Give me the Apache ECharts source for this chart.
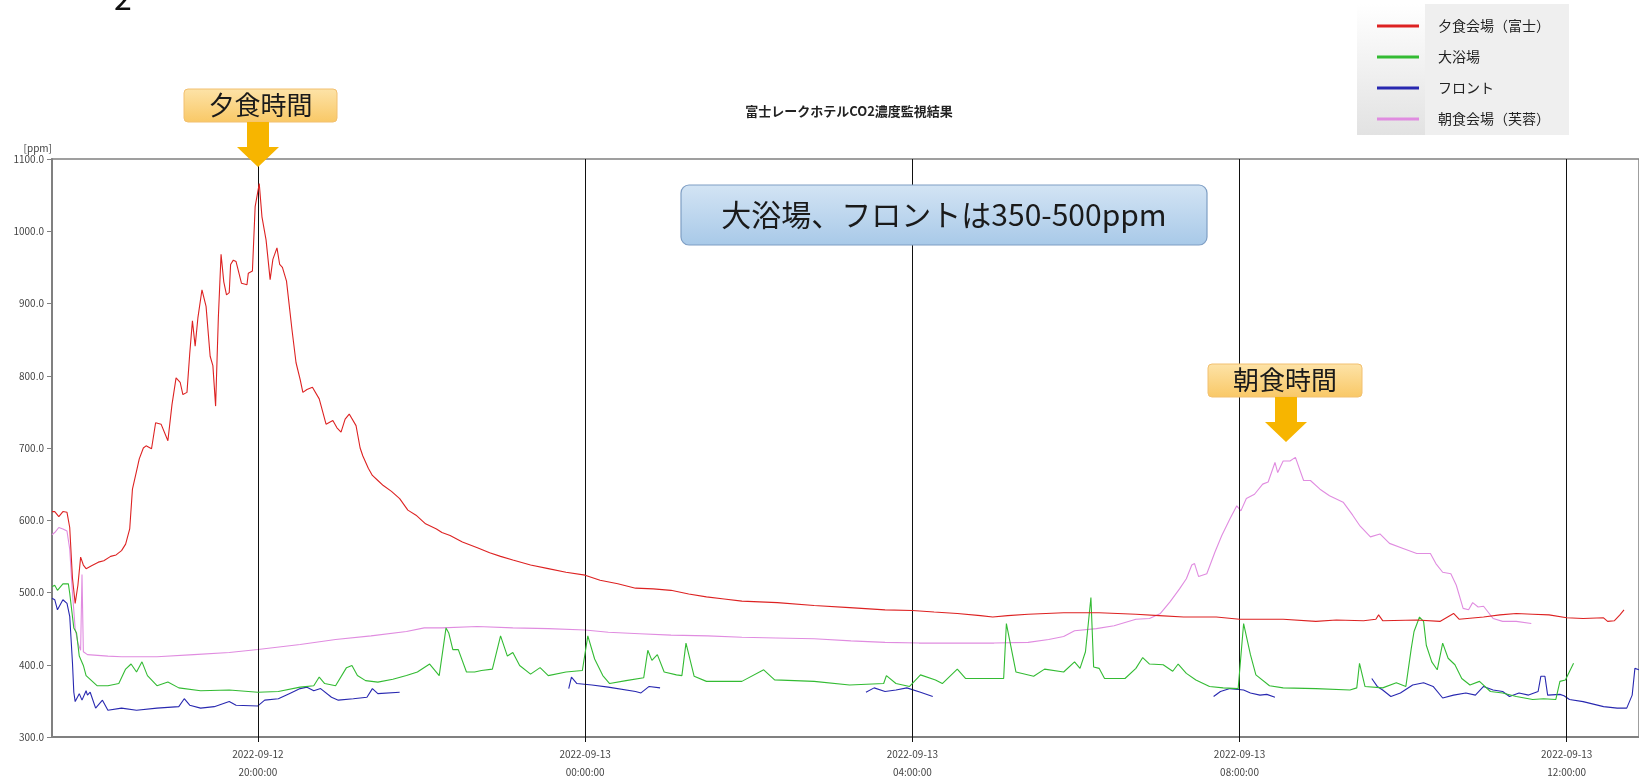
<!DOCTYPE html>
<html><head><meta charset="utf-8">
<script src="https://cdn.jsdelivr.net/npm/echarts@6/dist/echarts.min.js"></script>
<style>html,body{margin:0;padding:0;background:#fff}#c{width:1639px;height:781px}</style>
</head><body><div id="c"></div>
<script>
// ---- Data (time "HH:MM"; 17:00-23:59 = 2022-09-12, 00:00-16:59 = 2022-09-13) ----
const seriesNames = ['夕食会場（富士）', '大浴場', 'フロント', '朝食会場（芙蓉）'];
const seriesColors = ['#dd2222', '#33bb33', '#2828b0', '#e08ce0'];
const tickHours = [20, 24, 28, 32, 36];
const tickLabels = ['2022-09-12\n20:00:00', '2022-09-13\n00:00:00', '2022-09-13\n04:00:00', '2022-09-13\n08:00:00', '2022-09-13\n12:00:00'];
const xStart = '17:29', xEnd = '12:53';

const dinnerHall = [
['17:29',612],['17:31',612],['17:34',605],['17:37',612],['17:40',611],['17:42',590],['17:44',520],['17:46',485],['17:48',510],['17:50',549],
['17:52',538],['17:54',533],['17:58',537],['18:03',542],['18:07',544],['18:12',550],['18:16',552],['18:20',558],['18:23',567],['18:26',588],
['18:28',643],['18:31',668],['18:33',685],['18:36',700],['18:38',703],['18:42',699],['18:45',735],['18:49',733],['18:54',710],['18:57',760],
['19:00',797],['19:03',791],['19:05',774],['19:08',777],['19:10',830],['19:12',876],['19:14',841],['19:16',880],['19:19',919],['19:22',896],
['19:25',827],['19:27',814],['19:29',758],['19:31',880],['19:33',968],['19:35',930],['19:37',912],['19:39',915],['19:40',954],['19:42',960],
['19:44',958],['19:48',928],['19:52',926],['19:53',942],['19:56',945],['19:58',1034],['20:01',1066],['20:03',1020],['20:06',988],['20:09',933],
['20:11',961],['20:14',977],['20:16',954],['20:18',950],['20:21',931],['20:25',864],['20:28',818],['20:31',795],['20:33',777],['20:36',781],
['20:40',784],['20:45',768],['20:50',733],['20:55',738],['20:58',728],['21:01',722],['21:04',740],['21:07',747],['21:12',731],['21:15',700],
['21:17',689],['21:21',672],['21:24',662],['21:28',655],['21:32',648],['21:38',640],['21:44',630],['21:50',614],['21:56',607],['22:03',595],
['22:11',588],['22:15',583],['22:21',579],['22:30',570],['22:41',562],['22:50',555],['22:58',550],['23:07',545],['23:20',538],['23:33',533],
['23:46',528],['00:00',524],['00:11',517],['00:24',512],['00:37',506],['00:50',505],['01:03',503],['01:16',498],['01:29',494],['01:42',491],
['01:55',488],['02:21',486],['02:48',482],['03:14',479],['03:40',476],['04:00',475],['04:16',473],['04:33',471],['04:50',468],['04:59',466],
['05:10',468],['05:25',470],['05:51',472],['06:17',472],['06:44',470],['07:01',468],['07:19',466],['07:43',466],['08:00',463],['08:32',463],
['08:56',460],['09:11',462],['09:31',461],['09:40',463],['09:42',469],['09:45',461],['10:10',462],['10:27',460],['10:37',471],['10:41',463],
['10:59',466],['11:11',469],['11:23',471],['11:35',470],['11:47',469],['12:00',465],['12:12',464],['12:27',465],['12:30',460],['12:35',461],
['12:39',469],['12:42',476]
];

const bath = [
['17:29',508],['17:31',510],['17:33',503],['17:37',512],['17:41',512],['17:42',499],['17:45',451],['17:47',444],['17:49',412],['17:52',399],
['17:54',385],['18:02',371],['18:10',371],['18:18',374],['18:23',394],['18:27',401],['18:31',390],['18:35',404],['18:39',385],['18:46',371],
['18:54',376],['19:02',368],['19:18',364],['19:39',365],['20:00',362],['20:15',363],['20:31',369],['20:41',371],['20:45',383],['20:49',374],
['20:57',371],['21:05',396],['21:09',399],['21:13',385],['21:19',378],['21:28',376],['21:39',380],['21:49',385],['21:57',390],['22:06',401],
['22:13',385],['22:18',451],['22:20',444],['22:23',421],['22:27',421],['22:33',390],['22:39',390],['22:44',392],['22:52',394],['22:58',440],
['23:03',412],['23:07',417],['23:12',399],['23:20',387],['23:27',396],['23:33',385],['23:46',390],['23:58',392],['00:02',440],['00:07',408],
['00:13',385],['00:18',374],['00:30',378],['00:43',382],['00:46',420],['00:49',406],['00:53',414],['00:58',390],['01:07',386],['01:11',385],
['01:14',430],['01:20',384],['01:29',377],['01:55',377],['02:11',393],['02:19',379],['02:48',377],['03:14',372],['03:39',374],['03:41',385],
['03:48',374],['03:58',370],['04:06',386],['04:17',379],['04:22',374],['04:33',394],['04:39',381],['05:07',381],['05:09',457],['05:16',390],
['05:29',384],['05:37',394],['05:51',390],['05:59',404],['06:03',395],['06:07',418],['06:11',493],['06:13',397],['06:17',395],['06:21',381],
['06:36',381],['06:44',395],['06:49',410],['06:54',401],['07:04',400],['07:11',391],['07:15',401],['07:21',388],['07:28',379],['07:38',370],
['07:48',368],['07:59',367],['08:03',457],['08:08',414],['08:12',386],['08:22',371],['08:32',368],['08:56',367],['09:21',365],['09:26',368],
['09:28',402],['09:32',370],['09:45',368],['09:55',375],['10:02',370],['10:06',423],['10:08',446],['10:12',466],['10:15',460],['10:17',427],
['10:21',404],['10:25',393],['10:29',430],['10:33',409],['10:38',400],['10:43',381],['10:49',372],['10:56',377],['11:04',363],['11:13',361],
['11:23',356],['11:35',352],['11:43',353],['11:52',352],['11:55',377],['11:59',379],['12:05',402]
];

const frontDesk = [
['17:29',492],['17:31',490],['17:33',476],['17:37',490],['17:40',485],['17:42',467],['17:44',403],['17:45',362],['17:46',349],['17:49',360],
['17:51',351],['17:54',364],['17:55',358],['17:57',362],['18:01',340],['18:06',351],['18:10',337],['18:20',340],['18:31',337],['18:46',340],
['19:02',342],['19:06',353],['19:10',344],['19:18',340],['19:28',342],['19:39',349],['19:44',344],['20:00',343],['20:05',351],['20:15',353],
['20:23',360],['20:31',367],['20:36',369],['20:41',364],['20:46',367],['20:54',355],['20:59',351],['21:10',353],['21:20',355],['21:24',367],
['21:28',360],['21:44',362],['21:45',null],
['23:48',367],['23:50',383],['23:54',374],['00:05',372],['00:17',369],['00:37',363],['00:41',361],['00:47',370],['00:55',368],['00:56',null],
['03:26',362],['03:32',368],['03:40',363],['03:48',365],['03:56',368],['04:06',362],['04:15',356],['04:16',null],
['07:41',356],['07:46',363],['07:53',367],['08:03',365],['08:08',361],['08:15',358],['08:20',359],['08:26',355],['08:27',null],
['09:37',381],['09:41',370],['09:45',365],['09:51',356],['09:58',361],['10:07',372],['10:15',375],['10:22',370],['10:29',354],['10:37',358],
['10:46',361],['10:53',358],['10:59',370],['11:06',365],['11:13',363],['11:18',356],['11:25',361],['11:32',358],['11:39',363],['11:41',384],
['11:44',384],['11:46',358],['11:55',359],['11:58',357],['12:02',352],['12:12',349],['12:27',342],['12:37',340],['12:44',340],['12:48',358],
['12:50',395],['12:53',393]
];

const breakfastHall = [
['17:29',580],['17:31',583],['17:34',590],['17:37',588],['17:40',585],['17:42',560],['17:44',500],['17:46',450],['17:48',430],['17:50',420],
['17:51',525],['17:52',418],['17:55',414],['18:10',412],['18:20',411],['18:46',411],['19:13',414],['19:39',417],['20:00',421],['20:31',428],
['20:57',435],['21:23',440],['21:49',446],['22:02',451],['22:15',451],['22:41',453],['23:07',451],['23:33',450],['00:00',448],['00:17',445],
['00:40',443],['01:03',441],['01:30',440],['01:55',438],['02:20',437],['02:48',436],['03:15',433],['03:40',431],['04:05',430],['04:33',430],
['05:00',430],['05:25',431],['05:40',435],['05:51',439],['05:59',447],['06:15',450],['06:28',454],['06:44',463],['06:54',464],['07:02',471],
['07:09',487],['07:16',505],['07:21',519],['07:25',538],['07:27',540],['07:30',522],['07:36',526],['07:42',556],['07:47',579],['07:53',602],
['07:58',620],['08:01',613],['08:05',630],['08:11',636],['08:17',650],['08:21',653],['08:26',680],['08:28',666],['08:32',682],['08:37',682],
['08:41',687],['08:47',655],['08:52',655],['08:59',643],['09:06',634],['09:16',625],['09:23',607],['09:28',593],['09:36',577],['09:43',581],
['09:50',568],['10:00',561],['10:10',554],['10:20',554],['10:24',540],['10:29',528],['10:35',526],['10:39',510],['10:44',478],['10:48',476],
['10:51',486],['10:55',480],['10:59',481],['11:06',464],['11:13',460],['11:23',460],['11:34',457]
];

// ---- helpers ----
function hrs(s){ const [h,m] = s.split(':').map(Number); return (h < 17 ? h + 24 : h) + m/60; }
function conv(arr){ return arr.map(([t,v]) => [hrs(t), v]); }

const dataSets = [dinnerHall, bath, frontDesk, breakfastHall];
const FONT = '"Noto Sans CJK JP", "Noto Sans", sans-serif';

const chart = echarts.init(document.getElementById('c'), null, {renderer:'canvas'});

const series = dataSets.map((d, i) => ({
  name: seriesNames[i], type: 'line', data: conv(d), showSymbol: false, symbol: 'none',
  connectNulls: false, lineStyle: {width: 1.1, color: seriesColors[i]}, itemStyle: {color: seriesColors[i]},
  z: 3 + (3 - i), animation: false
}));
series[0].markLine = {
  silent: true, symbol: 'none', label: {show: false}, animation: false,
  lineStyle: {color: '#111', width: 1, type: 'solid'},
  data: tickHours.map(h => ({xAxis: h}))
};

function arrow(cx, yTop, yNeck, yTip){
  return {type:'polygon', shape:{points:[[cx-11,yTop],[cx+11,yTop],[cx+11,yNeck],[cx+21,yNeck],[cx,yTip],[cx-21,yNeck],[cx-11,yNeck]]},
    style:{fill:'#f7b500'}, z:20};
}
function tagBox(x, y, w, h, text){
  return [
    {type:'rect', shape:{x:x, y:y, width:w, height:h, r:4}, z:19,
      style:{fill:new echarts.graphic.LinearGradient(0,0,0,1,[{offset:0,color:'#fde3a8'},{offset:1,color:'#f9c866'}]), stroke:'#f2c070', lineWidth:1}},
    {type:'text', x:x+w/2, y:y+h/2, z:21, style:{text:text, font:'26px '+FONT, fill:'#1a1a1a', align:'center', verticalAlign:'middle'}}
  ];
}

const option = {
  backgroundColor: '#ffffff',
  animation: false,
  textStyle: {fontFamily: FONT},
  title: {text: '富士レークホテルCO2濃度監視結果', left: 844, top: 100, textAlign: 'center',
    textStyle: {fontSize: 13, fontWeight: 'bold', color: '#222', fontFamily: FONT}},
  legend: {
    orient: 'vertical', left: 1372, top: 14, itemGap: 17, itemWidth: 42, itemHeight: 3, icon: 'rect',
    data: seriesNames, selectedMode: false,
    textStyle: {fontSize: 14, color: '#222', fontFamily: FONT, padding: [0,0,0,14]}
  },
  grid: {left: 52, right: 0, top: 159, bottom: 42, show: true, borderColor: '#808080', borderWidth: 1.5, backgroundColor: 'transparent'},
  xAxis: {
    type: 'value', min: hrs(xStart), max: hrs(xEnd),
    axisLine: {show: true, lineStyle: {color: '#808080', width: 2}},
    splitLine: {show: false},
    axisTick: {show: true, customValues: tickHours, length: 5, lineStyle: {color: '#111'}},
    axisLabel: {customValues: tickHours, fontSize: 10, color: '#444', lineHeight: 18, margin: 8, fontFamily: FONT,
      formatter: v => { const i = tickHours.findIndex(h => Math.abs(h - v) < 1e-6); return i >= 0 ? tickLabels[i] : ''; }}
  },
  yAxis: {
    type: 'value', min: 300, max: 1100, interval: 100,
    name: '[ppm]', nameLocation: 'end', nameGap: 6,
    nameTextStyle: {fontSize: 10, color: '#444', align: 'right', verticalAlign: 'bottom', fontFamily: FONT},
    axisLine: {show: true, lineStyle: {color: '#808080', width: 2}},
    axisTick: {show: true, length: 5, lineStyle: {color: '#808080'}},
    splitLine: {show: false},
    axisLabel: {fontSize: 10, color: '#444', fontFamily: FONT, formatter: v => v.toFixed(1)}
  },
  graphic: [
    // legend box background
    {type:'rect', shape:{x:1357, y:4, width:212, height:131}, z:-1, style:{fill:'#efefef'}},
    {type:'rect', shape:{x:1357, y:4, width:68, height:131}, z:-1,
      style:{fill:new echarts.graphic.LinearGradient(0,0,0,1,[{offset:0,color:'#ffffff'},{offset:1,color:'#e2e2e2'}])}},
    // cropped slide heading fragment
    {type:'text', x:114, y:14, z:5, style:{text:'2', font:'32px '+FONT, fill:'#111', verticalAlign:'bottom'}},
    // annotations
    ...tagBox(184, 89, 153, 33, '夕食時間'),
    arrow(258, 122, 147, 167),
    ...tagBox(1208, 364, 154, 33, '朝食時間'),
    arrow(1286, 397, 422, 442),
    {type:'rect', shape:{x:681, y:185, width:526, height:60, r:8}, z:19,
      style:{fill:new echarts.graphic.LinearGradient(0,0,0,1,[{offset:0,color:'#d3e4f4'},{offset:1,color:'#a8c9e8'}]), stroke:'#7e9ec4', lineWidth:1.2}},
    {type:'text', x:944, y:215, z:21, style:{text:'大浴場、フロントは350-500ppm', font:'30px '+FONT, fill:'#1a1a1a', align:'center', verticalAlign:'middle'}}
  ],
  series: series
};
chart.setOption(option);
</script></body></html>
